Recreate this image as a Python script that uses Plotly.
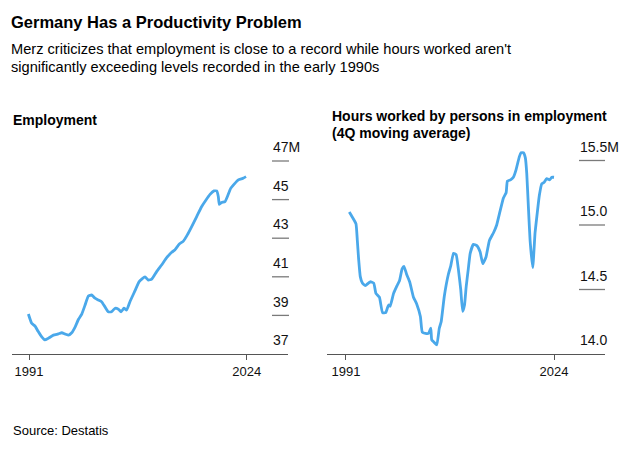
import plotly.graph_objects as go

# ---- Data ----
emp_years = [1990.9, 1991.4, 1991.9, 1992.4, 1992.9, 1993.4, 1993.9, 1994.7, 1995.45, 1995.96,
             1996.5, 1997.0, 1997.47, 1998.0, 1998.5, 1999.0, 1999.5, 2000.0, 2000.5, 2001.0,
             2001.5, 2002.0, 2002.5, 2003.0, 2003.5, 2004.04, 2004.55, 2004.95, 2005.4, 2005.8,
             2006.3, 2007.07, 2007.7, 2008.58, 2009.08, 2009.6, 2010.35, 2011.1, 2011.87, 2012.63,
             2013.1, 2013.79, 2014.4, 2015.0, 2015.66, 2016.42, 2017.18, 2017.83, 2018.44, 2019.04,
             2019.45, 2019.7, 2019.85, 2020.2, 2020.7, 2021.06, 2021.57, 2022.07, 2022.73, 2023.4,
             2023.9]
emp_values = [39.07, 38.59, 38.45, 38.16, 37.90, 37.73, 37.81, 37.98, 38.04, 38.10,
              38.03, 37.98, 38.10, 38.41, 38.80, 39.07, 39.54, 40.00, 40.06, 39.89,
              39.80, 39.71, 39.45, 39.19, 39.19, 39.37, 39.32, 39.19, 39.37, 39.28,
              39.71, 40.28, 40.75, 41.00, 40.83, 40.88, 41.27, 41.61, 41.99, 42.27,
              42.39, 42.70, 42.85, 43.17, 43.60, 44.12, 44.64, 44.98, 45.27, 45.45,
              45.45, 45.15, 44.75, 44.85, 44.89, 45.15, 45.58, 45.79, 46.02, 46.10,
              46.19]

hrs_years = [1991.52, 1991.9, 1992.58, 1992.8, 1993.0, 1993.27, 1993.6, 1994.06, 1994.85, 1995.4,
             1995.75, 1996.3, 1996.8, 1997.3, 1997.75, 1998.0, 1998.55, 1999.1, 1999.5, 1999.9,
             2000.2, 2000.6, 2001.1, 2001.7, 2002.2, 2002.8, 2003.1, 2003.6, 2004.1, 2004.45,
             2004.6, 2005.0, 2005.4, 2005.8, 2006.1, 2006.6, 2007.25, 2007.6, 2008.05, 2008.47,
             2008.84, 2009.2, 2009.5, 2009.8, 2010.06, 2010.4, 2010.7, 2011.2, 2011.75, 2012.28,
             2012.7, 2013.2, 2013.75, 2014.4, 2014.9, 2015.45, 2015.97, 2016.4, 2016.6, 2017.1,
             2017.55, 2017.98, 2018.5, 2018.77, 2019.14, 2019.45, 2019.67, 2019.93, 2020.2, 2020.62,
             2020.99, 2021.35, 2021.67, 2022.05, 2022.4, 2022.84, 2023.3, 2023.64, 2024.0]
hrs_values = [15.10, 15.07, 15.01, 14.88, 14.74, 14.60, 14.55, 14.53, 14.56, 14.55,
              14.47, 14.44, 14.32, 14.32, 14.38, 14.37, 14.47, 14.53, 14.57, 14.66,
              14.68, 14.62, 14.56, 14.44, 14.39, 14.29, 14.17, 14.16, 14.16, 14.20,
              14.11, 14.09, 14.07, 14.20, 14.25, 14.45, 14.62, 14.68, 14.78, 14.77,
              14.65, 14.50, 14.33, 14.38, 14.52, 14.66, 14.78, 14.85, 14.84, 14.79,
              14.70, 14.75, 14.88, 14.94, 15.00, 15.11, 15.21, 15.25, 15.34, 15.35,
              15.37, 15.43, 15.53, 15.56, 15.56, 15.52, 15.40, 15.14, 14.88, 14.67,
              14.94, 15.10, 15.23, 15.32, 15.33, 15.36, 15.35, 15.37, 15.37]

x_tickvals = [1991, 2024]
x_ticktext = ["1991", "2024"]
emp_tickvals = [37, 39, 41, 43, 45, 47]
emp_ticktext = ["37", "39", "41", "43", "45", "47M"]
hrs_tickvals = [14.0, 14.5, 15.0, 15.5]
hrs_ticktext = ["14.0", "14.5", "15.0", "15.5M"]

# ---- Styling / layout ----
W, H = 640, 449
FONT = "Liberation Sans, Arial, sans-serif"
BLUE = "#4aa8ea"
GRID = "#7a7a7a"
AXIS = "#555555"
LABEL_LIFT = 4  # px the value labels sit above their tick lines

def px_x(p):
    return p / W

def px_y(p):
    return (H - p) / H

TOP, BOT = 128, 354
ydom = [px_y(BOT), px_y(TOP)]
ydom_lab = [px_y(BOT - LABEL_LIFT), px_y(TOP - LABEL_LIFT)]
emp_range = [37, 37 + (BOT - TOP) / 19.3]
hrs_range = [14.0, 14.0 + (BOT - TOP) / 129.0]


def tick_segments(tickvals, floor):
    """Short horizontal tick lines spanning a narrow [0, 1] axis, one per tick value."""
    xs, ys = [], []
    for v in tickvals:
        if v > floor:
            xs += [0, 1, None]
            ys += [v, v, None]
    return xs, ys


fig = go.Figure()
fig.add_trace(go.Scatter(x=emp_years, y=emp_values, mode="lines",
                         line=dict(color=BLUE, width=2.8, shape="spline", smoothing=0.4),
                         xaxis="x", yaxis="y", hoverinfo="skip", showlegend=False))
fig.add_trace(go.Scatter(x=hrs_years, y=hrs_values, mode="lines",
                         line=dict(color=BLUE, width=2.8, shape="spline", smoothing=0.4),
                         xaxis="x2", yaxis="y2", hoverinfo="skip", showlegend=False))

gx, gy = tick_segments(emp_tickvals, emp_range[0])
fig.add_trace(go.Scatter(x=gx, y=gy, mode="lines", line=dict(color=GRID, width=1.3),
                         xaxis="x3", yaxis="y3", hoverinfo="skip", showlegend=False))
gx, gy = tick_segments(hrs_tickvals, hrs_range[0])
fig.add_trace(go.Scatter(x=gx, y=gy, mode="lines", line=dict(color=GRID, width=1.3),
                         xaxis="x4", yaxis="y4", hoverinfo="skip", showlegend=False))
# empty traces so the label axes get drawn
for xa, ya in [("x5", "y5"), ("x6", "y6")]:
    fig.add_trace(go.Scatter(x=[], y=[], xaxis=xa, yaxis=ya, showlegend=False, hoverinfo="skip"))

xcommon = dict(showgrid=False, zeroline=False, showline=True, linecolor=AXIS, linewidth=1,
               ticks="outside", ticklen=5, tickcolor=AXIS, tickwidth=1,
               tickvals=x_tickvals, ticktext=x_ticktext,
               tickfont=dict(family=FONT, size=13, color="#111"), fixedrange=True)
ylab = dict(showgrid=False, zeroline=False, showline=False, ticks="", side="left",
            ticklabelposition="inside top", ticklabelstandoff=-2,
            tickfont=dict(family=FONT, size=14, color="#111"), fixedrange=True)
xhidden = dict(range=[0, 1], visible=False, fixedrange=True)

fig.update_layout(
    width=W, height=H, margin=dict(l=0, r=0, t=0, b=0),
    paper_bgcolor="white", plot_bgcolor="rgba(0,0,0,0)",
    xaxis=dict(domain=[px_x(12), px_x(288)], range=[1988.42, 2030.26], anchor="y", **xcommon),
    yaxis=dict(domain=ydom, range=emp_range, visible=False, anchor="x", fixedrange=True),
    xaxis2=dict(domain=[px_x(327), px_x(605)], range=[1987.99, 2032.08], anchor="y2", **xcommon),
    yaxis2=dict(domain=ydom, range=hrs_range, visible=False, anchor="x2", fixedrange=True),
    # narrow axes holding the short tick lines at the right of each panel
    xaxis3=dict(domain=[px_x(272), px_x(289)], anchor="y3", **xhidden),
    yaxis3=dict(domain=ydom, range=emp_range, anchor="x3", visible=False, fixedrange=True),
    xaxis4=dict(domain=[px_x(579), px_x(605)], anchor="y4", **xhidden),
    yaxis4=dict(domain=ydom, range=hrs_range, anchor="x4", visible=False, fixedrange=True),
    # value labels sitting just above those lines
    xaxis5=dict(domain=[px_x(272), px_x(289)], anchor="y5", **xhidden),
    yaxis5=dict(domain=ydom_lab, range=emp_range, anchor="x5",
                tickvals=emp_tickvals, ticktext=emp_ticktext, **ylab),
    xaxis6=dict(domain=[px_x(579), px_x(605)], anchor="y6", **xhidden),
    yaxis6=dict(domain=ydom_lab, range=hrs_range, anchor="x6",
                tickvals=hrs_tickvals, ticktext=hrs_ticktext, **ylab),
    showlegend=False,
)

def note(text, x, y, size, bold=False):
    fig.add_annotation(text=f"<b>{text}</b>" if bold else text, x=px_x(x), y=px_y(y),
                       xref="paper", yref="paper", xanchor="left", yanchor="middle",
                       showarrow=False, font=dict(family=FONT, size=size, color="#000"))

note("Germany Has a Productivity Problem", 9, 21.5, 16.5, bold=True)
note("Merz criticizes that employment is close to a record while hours worked aren't", 9, 48.7, 14.6)
note("significantly exceeding levels recorded in the early 1990s", 9, 67.3, 14.6)
note("Employment", 11, 120, 14, bold=True)
note("Hours worked by persons in employment", 330, 116.2, 14, bold=True)
note("(4Q moving average)", 330, 133.0, 14, bold=True)
note("Source: Destatis", 11, 430, 13)

fig.write_html("out.html", config={"displayModeBar": False},
               post_script="document.body.style.margin='0';document.body.style.padding='0';")
